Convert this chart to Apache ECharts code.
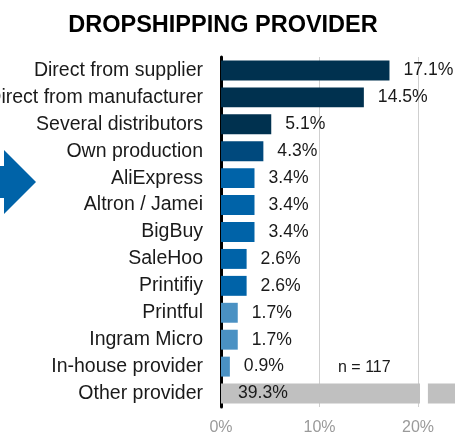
<!DOCTYPE html>
<html>
<head>
<meta charset="utf-8">
<script src="https://cdn.jsdelivr.net/npm/echarts@6/dist/echarts.min.js"></script>
<style>
  html, body { margin: 0; padding: 0; background: #fff; }
  #chart { width: 455px; height: 435px; }
</style>
</head>
<body>
<div id="chart"></div>
<script>
// Providers used for dropshipping, share of respondents (%)
const categories = [
  'Direct from supplier', 'Direct from manufacturer', 'Several distributors',
  'Own production', 'AliExpress', 'Altron / Jamei', 'BigBuy', 'SaleHoo',
  'Printifiy', 'Printful', 'Ingram Micro', 'In-house provider', 'Other provider'
];
const shares = [17.1, 14.5, 5.1, 4.3, 3.4, 3.4, 3.4, 2.6, 2.6, 1.7, 1.7, 0.9, 39.3];
const barColors = [
  '#00314f', '#00314f', '#00314f', '#00497d', '#0063a8', '#0063a8', '#0063a8',
  '#0063a8', '#0063a8', '#4a91c3', '#4a91c3', '#4a91c3', '#c0c0c0'
];
const tickValues = [0, 10, 20];
// the overlong bar is cut by a white gap between these axis values
const cutFrom = 20.2;
const cutTo = 21.0;
const sampleNote = 'n = 117';

const font = 'Liberation Sans, Arial, sans-serif';
const lastIndex = shares.length - 1;
const chart = echarts.init(document.getElementById('chart'));

chart.setOption({
  animation: false,
  title: {
    text: 'DROPSHIPPING PROVIDER',
    left: 218, top: 9, textAlign: 'center',
    textStyle: { fontFamily: font, fontSize: 23.5, fontWeight: 'bold', color: '#000' }
  },
  grid: {
    left: 221, right: 0, top: 57, bottom: 28,
    containLabel: false, outerBoundsMode: 'none'
  },
  xAxis: {
    type: 'value',
    min: 0, max: 23.75, interval: 10,
    axisLine: { show: false },
    axisTick: { show: false },
    splitLine: { show: true, showMaxLine: false, lineStyle: { color: '#cfcfcf', width: 1 } },
    axisLabel: {
      showMaxLabel: false,
      margin: 13,
      fontFamily: font, fontSize: 16, color: '#9a9a9a',
      formatter: v => tickValues.includes(v) ? v + '%' : ''
    }
  },
  yAxis: {
    type: 'category',
    inverse: true,
    data: categories,
    axisLine: { show: true, lineStyle: { color: '#000', width: 3 } },
    axisTick: { show: false },
    axisLabel: { margin: 18, fontFamily: font, fontSize: 19.5, color: '#1a1a1a' }
  },
  series: [
    {
      type: 'bar',
      barCategoryGap: '26%',
      data: shares.map((v, i) => ({
        value: v,
        itemStyle: { color: barColors[i] },
        label: i === lastIndex
          ? { position: 'insideLeft', distance: 17 }
          : { position: 'right', distance: 14 }
      })),
      label: {
        show: true,
        fontFamily: font, fontSize: 17.6, color: '#1a1a1a',
        formatter: p => p.value.toFixed(1) + '%'
      }
    },
    {
      // white gap cutting the overlong bar
      type: 'custom',
      z: 5,
      silent: true,
      encode: { x: [0, 1], y: 2 },
      data: [[cutFrom, cutTo, lastIndex]],
      renderItem: (params, api) => {
        const a = api.coord([api.value(0), api.value(2)]);
        const b = api.coord([api.value(1), api.value(2)]);
        const band = api.size([0, 1])[1];
        return {
          type: 'rect',
          shape: { x: a[0], y: a[1] - band / 2, width: b[0] - a[0], height: band },
          style: { fill: '#fff' }
        };
      }
    }
  ],
  graphic: [
    {
      type: 'polygon',
      shape: { points: [[0, 166], [4, 166], [4, 150], [36, 182], [4, 214], [4, 198], [0, 198]] },
      style: { fill: '#0063a8' }
    },
    {
      type: 'text',
      left: 338, top: 360,
      style: { text: sampleNote, fontFamily: font, fontSize: 16, fill: '#1a1a1a' }
    }
  ]
});
</script>
</body>
</html>
